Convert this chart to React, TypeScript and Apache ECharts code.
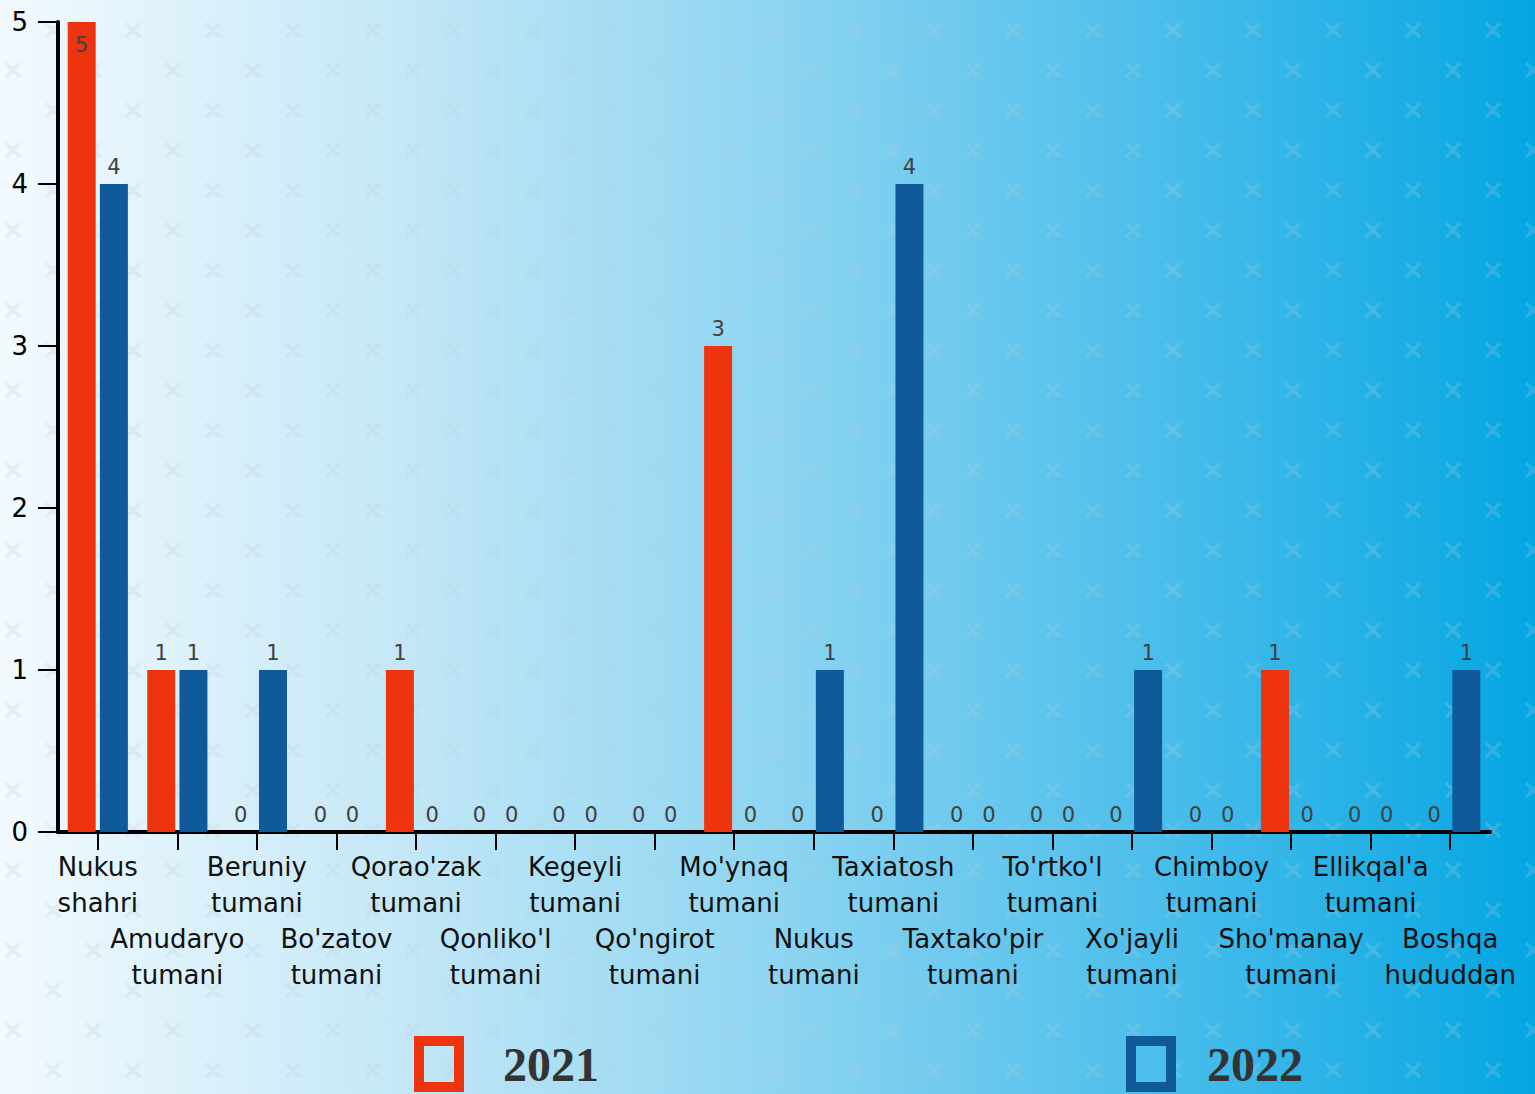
import React, { useEffect, useRef } from "react";
import * as echarts from "echarts";

const categories = [
  "Nukus\nshahri", "Amudaryo\ntumani", "Beruniy\ntumani", "Bo'zatov\ntumani",
  "Qorao'zak\ntumani", "Qonliko'l\ntumani", "Kegeyli\ntumani", "Qo'ngirot\ntumani",
  "Mo'ynaq\ntumani", "Nukus\ntumani", "Taxiatosh\ntumani", "Taxtako'pir\ntumani",
  "To'rtko'l\ntumani", "Xo'jayli\ntumani", "Chimboy\ntumani", "Sho'manay\ntumani",
  "Ellikqal'a\ntumani", "Boshqa\nhududdan",
];
const values2021 = [5, 1, 0, 0, 1, 0, 0, 0, 3, 0, 0, 0, 0, 0, 0, 1, 0, 0];
const values2022 = [4, 1, 1, 0, 0, 0, 0, 0, 0, 1, 4, 0, 0, 1, 0, 0, 0, 1];
const seriesNames = ["2021", "2022"];
const yTicks = { min: 0, max: 5, interval: 1 };

const RED = "#ee340e";
const BLUE = "#115a9a";

// decorative cross pattern
let crossD = "";
for (let r = 0; r < 28; r++) {
  const y = 30 + 40 * r;
  const x0 = r % 2 === 0 ? 53 : 13;
  for (let x = x0; x < 1560; x += 80) {
    crossD += `M${x - 7} ${y - 7}L${x + 7} ${y + 7}M${x + 7} ${y - 7}L${x - 7} ${y + 7}`;
  }
}
echarts.graphic.registerShape("crosses", echarts.graphic.extendPath(crossD, {}));

const HOLLOW = "path://M0,0H50V56H0Z M10,10V46H40V10Z";

export default function App() {
  const ref = useRef<HTMLDivElement>(null);
  useEffect(() => {
    if (!ref.current) return;
    const chart = echarts.init(ref.current, null, { renderer: "svg" });
    const labelStyle = {
      show: true,
      position: "top",
      distance: 7,
      color: "#404040",
      fontSize: 21,
      fontFamily: "DejaVu Sans",
    };
    const mk = (vals: number[]) =>
      vals.map((v) =>
        v === yTicks.max
          ? { value: v, label: { position: "insideTop", distance: 12 } }
          : v
      );
    chart.setOption({
      animation: false,
      backgroundColor: new echarts.graphic.LinearGradient(0, 0, 1, 0, [
        { offset: 0, color: "#f2fafe" },
        { offset: 0.25, color: "#c6e8f7" },
        { offset: 0.5, color: "#8fd5f1" },
        { offset: 0.75, color: "#4cbeeb" },
        { offset: 1, color: "#04a6e2" },
      ]),
      graphic: [
        {
          type: "crosses",
          x: 0,
          y: 0,
          silent: true,
          z: -10,
          style: { fill: "none", stroke: "rgba(185,205,218,0.24)", lineWidth: 3.5 },
        },
      ],
      grid: { left: 58, right: 45, top: 22, bottom: 262, containLabel: false },
      legend: {
        left: 414,
        top: 1036,
        padding: 0,
        itemWidth: 50,
        itemHeight: 56,
        itemGap: 527,
        selectedMode: false,
        textStyle: {
          fontFamily: "Liberation Serif",
          fontWeight: "bold",
          fontSize: 48,
          lineHeight: 46,
          color: "#333",
          padding: [0, 0, 0, 34],
        },
        data: [
          { name: seriesNames[0], icon: HOLLOW },
          { name: seriesNames[1], icon: HOLLOW, textStyle: { padding: [0, 0, 0, 26] } },
        ],
      },
      xAxis: {
        type: "category",
        data: categories,
        axisLine: { show: true, lineStyle: { color: "#000", width: 4 } },
        axisTick: { show: true, alignWithLabel: true, length: 18, lineStyle: { color: "#000", width: 2 } },
        axisLabel: {
          interval: 0,
          margin: 17,
          fontSize: 26,
          lineHeight: 36,
          color: "#111",
          fontFamily: "DejaVu Sans",
          formatter: (val: string, idx: number) => (idx % 2 === 1 ? "\n\n" + val : val),
        },
      },
      yAxis: {
        type: "value",
        min: yTicks.min,
        max: yTicks.max,
        interval: yTicks.interval,
        splitLine: { show: false },
        axisLine: { show: true, lineStyle: { color: "#000", width: 4 } },
        axisTick: { show: true, length: 20, lineStyle: { color: "#000", width: 2 } },
        axisLabel: { margin: 30, fontSize: 26, color: "#000", fontFamily: "DejaVu Sans" },
      },
      series: [
        {
          name: seriesNames[0],
          type: "bar",
          data: mk(values2021),
          barWidth: 28,
          barGap: "15%",
          itemStyle: { color: RED },
          label: labelStyle,
        },
        {
          name: seriesNames[1],
          type: "bar",
          data: mk(values2022),
          barWidth: 28,
          barGap: "15%",
          itemStyle: { color: BLUE },
          label: labelStyle,
        },
      ],
    });
    return () => chart.dispose();
  }, []);
  return (
    <div
      ref={ref}
      style={{ position: "fixed", left: 0, top: 0, width: 1535, height: 1094 }}
    />
  );
}
